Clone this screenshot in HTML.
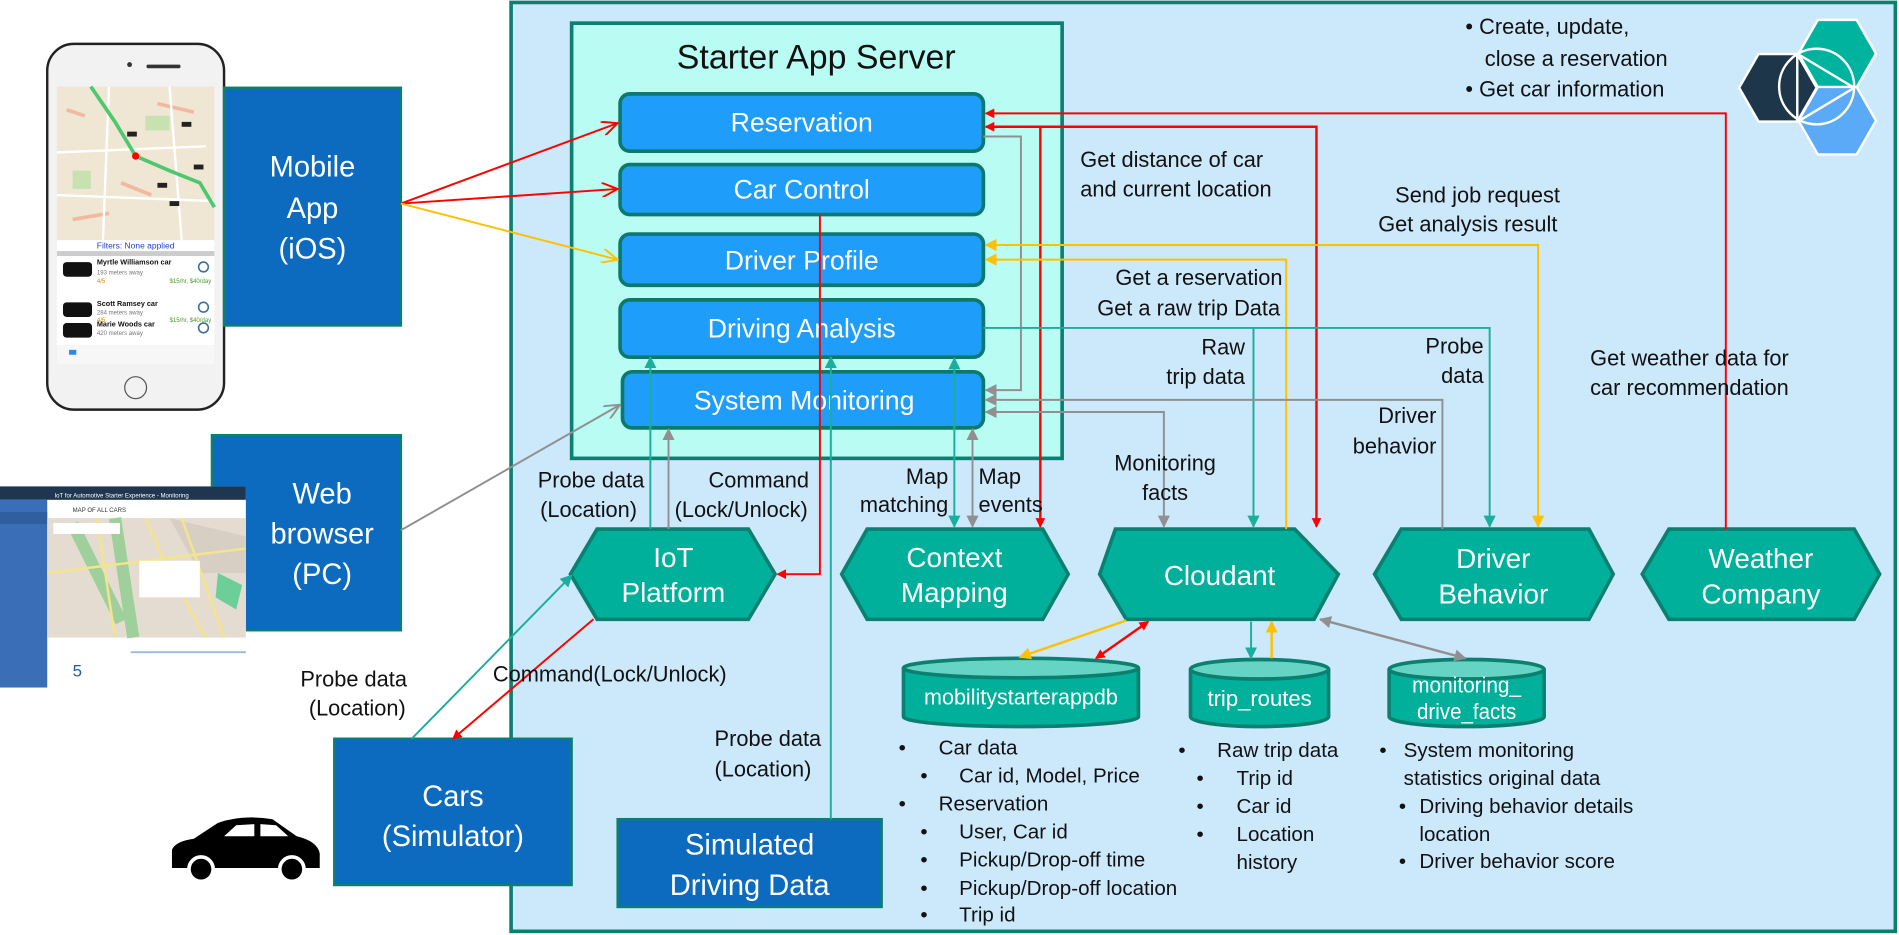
<!DOCTYPE html>
<html><head><meta charset="utf-8"><style>
html,body{margin:0;padding:0;background:#fff;}
svg{display:block;}
text{font-family:"Liberation Sans",sans-serif;}
</style></head><body>
<svg width="1899" height="935" viewBox="0 0 1568 767" preserveAspectRatio="none" xmlns="http://www.w3.org/2000/svg">
<defs>
<marker id="ar" markerWidth="8" markerHeight="8" refX="7" refY="4" orient="auto-start-reverse" markerUnits="userSpaceOnUse"><path d="M0,0 L8,4 L0,8 z" fill="#f00"/></marker>
<marker id="arO" markerWidth="14" markerHeight="12" refX="13" refY="6" orient="auto-start-reverse" markerUnits="userSpaceOnUse"><path d="M0,0 L13,6 L0,12" fill="none" stroke="#f00" stroke-width="1.6"/></marker>
<marker id="ay" markerWidth="10" markerHeight="10" refX="9" refY="5" orient="auto-start-reverse" markerUnits="userSpaceOnUse"><path d="M0,0 L10,5 L0,10 z" fill="#ffc000"/></marker>
<marker id="ayO" markerWidth="14" markerHeight="12" refX="13" refY="6" orient="auto-start-reverse" markerUnits="userSpaceOnUse"><path d="M0,0 L13,6 L0,12" fill="none" stroke="#ffc000" stroke-width="1.6"/></marker>
<marker id="at" markerWidth="10" markerHeight="10" refX="9" refY="5" orient="auto-start-reverse" markerUnits="userSpaceOnUse"><path d="M0,0 L10,5 L0,10 z" fill="#1aae9c"/></marker>
<marker id="ag" markerWidth="10" markerHeight="10" refX="9" refY="5" orient="auto-start-reverse" markerUnits="userSpaceOnUse"><path d="M0,0 L10,5 L0,10 z" fill="#909090"/></marker>
<marker id="agO" markerWidth="14" markerHeight="12" refX="13" refY="6" orient="auto-start-reverse" markerUnits="userSpaceOnUse"><path d="M0,0 L13,6 L0,12" fill="none" stroke="#909090" stroke-width="1.6"/></marker>
</defs>

<rect x="422" y="2" width="1143" height="762" fill="#cce8fb" stroke="#0b8070" stroke-width="3"/>

<g stroke="#fff" stroke-width="2">
<polygon points="1436,72 1452,44.3 1484,44.3 1500,72 1484,99.7 1452,99.7" fill="#1d3649"/>
<polygon points="1485,44 1501,16.3 1533,16.3 1549,44 1533,71.7 1501,71.7" fill="#00b39e"/>
<polygon points="1485,99 1501,71.3 1533,71.3 1549,99 1533,126.7 1501,126.7" fill="#5aaaf8"/>
<circle cx="1500" cy="71" r="31" fill="none"/>
<line x1="1484" y1="44" x2="1484" y2="100"/>
<line x1="1484" y1="44" x2="1531" y2="72"/>
<line x1="1484" y1="100" x2="1531" y2="72"/>
</g>

<rect x="472" y="19" width="405" height="357" fill="#b8fcf4" stroke="#0b8070" stroke-width="3"/>
<text x="674" y="56" font-size="28" text-anchor="middle" fill="#111">Starter App Server</text>

<g stroke="#0b7a6d" stroke-width="3" fill="#1e9dfb">
<rect x="512" y="77" width="300" height="47" rx="8"/>
<rect x="512" y="135" width="300" height="41" rx="8"/>
<rect x="512" y="192" width="300" height="42" rx="8"/>
<rect x="512" y="246" width="300" height="47" rx="8"/>
<rect x="514" y="305" width="298" height="46" rx="8"/>
</g>
<g fill="#fff" font-size="22" text-anchor="middle">
<text x="662" y="108">Reservation</text>
<text x="662" y="163">Car Control</text>
<text x="662" y="221">Driver Profile</text>
<text x="662" y="277">Driving Analysis</text>
<text x="664" y="336">System Monitoring</text>
</g>

<!-- phone -->
<rect x="39" y="36" width="146" height="300" rx="22" fill="#f2f2f2" stroke="#222" stroke-width="2"/>
<circle cx="107" cy="53" r="2" fill="#333"/><rect x="121" y="53" width="28" height="3" fill="#333" rx="1"/>
<rect x="47" y="71" width="130" height="126" fill="#efe6d3"/>
<path d="M55,90 L70,95 M130,85 L160,92 M100,150 L125,160 M60,180 L90,175" stroke="#f0b9a0" stroke-width="3"/>
<rect x="120" y="95" width="20" height="12" fill="#c7e2b0"/><rect x="60" y="140" width="15" height="15" fill="#c7e2b0"/>
<path d="M47,125 L170,120 M90,71 L85,197 M47,160 L177,165 M140,71 L150,197" stroke="#fff" stroke-width="2" fill="none"/>
<path d="M75,71 L95,100 L112,128 L140,140 L165,150 L177,170" fill="none" stroke="#4dc86e" stroke-width="3"/>
<circle cx="112" cy="128" r="3" fill="#f00"/>
<g fill="#222"><rect x="105" y="108" width="8" height="4"/><rect x="150" y="100" width="8" height="4"/><rect x="130" y="150" width="8" height="4"/><rect x="160" y="135" width="8" height="4"/><rect x="140" y="165" width="8" height="4"/></g>
<rect x="47" y="197" width="130" height="9" fill="#fff"/>
<text x="112" y="204" font-size="7" fill="#2244cc" text-anchor="middle">Filters: None applied</text>
<rect x="47" y="206" width="130" height="4" fill="#ccc"/>
<rect x="47" y="210" width="130" height="73" fill="#fff"/>
<g font-size="6" fill="#111" font-weight="bold">
<text x="80" y="217">Myrtle Williamson car</text>
<text x="80" y="251">Scott Ramsey car</text>
<text x="80" y="268">Marie Woods car</text>
</g>
<g font-size="5" fill="#777"><text x="80" y="225">193 meters away</text><text x="80" y="258">284 meters away</text><text x="80" y="275">420 meters away</text></g>
<g font-size="5" fill="#e08a00"><text x="80" y="232">4/5</text><text x="80" y="264">4/5</text></g>
<g font-size="5" fill="#4a9a2a"><text x="140" y="232">$15/hr, $40/day</text><text x="140" y="264">$15/hr, $40/day</text></g>
<g fill="#111"><rect x="52" y="215" width="24" height="12" rx="3"/><rect x="52" y="248" width="24" height="12" rx="3"/><rect x="52" y="265" width="24" height="12" rx="3"/></g>
<g fill="none" stroke="#3a6f9a" stroke-width="1.3"><circle cx="168" cy="219" r="4"/><circle cx="168" cy="252" r="4"/><circle cx="168" cy="269" r="4"/></g>
<rect x="47" y="283" width="130" height="16" fill="#f7f7f7"/>
<rect x="57" y="287" width="6" height="4" fill="#2a8af0"/>
<circle cx="112" cy="318" r="9" fill="none" stroke="#555" stroke-width="1"/>

<rect x="185" y="72" width="146" height="195" fill="#0d6bbf" stroke="#0b8070" stroke-width="2"/>
<g fill="#fff" font-size="24" text-anchor="middle">
<text x="258" y="145">Mobile</text><text x="258" y="179">App</text><text x="258" y="212">(iOS)</text>
</g>

<rect x="175" y="357" width="156" height="160" fill="#0d6bbf" stroke="#0b8070" stroke-width="2"/>
<!-- browser screenshot -->
<rect x="0" y="399" width="203" height="165" fill="#fff"/>
<rect x="0" y="399" width="203" height="11" fill="#1e3650"/>
<rect x="0" y="410" width="39" height="154" fill="#3a6fb8"/>
<rect x="0" y="420" width="39" height="10" fill="#2f5f9e"/>
<rect x="39" y="425" width="164" height="98" fill="#e4dcd0"/>
<path d="M140,425 L203,440 L203,470 L165,470 Z" fill="#d8cfc4"/>
<path d="M60,430 L100,510 M95,425 L110,523" stroke="#9fcf9a" stroke-width="10" fill="none"/>
<path d="M80,425 L95,523 M120,425 L140,470 L170,523 M39,470 L203,450 M150,425 L185,523" stroke="#f4e48a" stroke-width="2" fill="none"/>
<path d="M180,470 L200,480 L195,500 L178,490 Z" fill="#6ccf9a"/>
<rect x="44" y="429" width="55" height="9" fill="#fff"/>
<rect x="115" y="460" width="50" height="30" fill="#fff"/>
<text x="45" y="408" font-size="5" fill="#fff">IoT for Automotive Starter Experience - Monitoring</text>
<text x="60" y="420" font-size="5" fill="#333">MAP OF ALL CARS</text>
<text x="60" y="555" font-size="14" fill="#2a5a9a">5</text>
<line x1="108" y1="535" x2="203" y2="535" stroke="#9ab8e0" stroke-width="1.5"/>
<g fill="#fff" font-size="24" text-anchor="middle">
<text x="266" y="413">Web</text><text x="266" y="446">browser</text><text x="266" y="479">(PC)</text>
</g>

<rect x="276" y="606" width="196" height="120" fill="#0d6bbf" stroke="#0b8070" stroke-width="2"/>
<g fill="#fff" font-size="24" text-anchor="middle"><text x="374" y="661">Cars</text><text x="374" y="694">(Simulator)</text></g>
<path d="M142,712 L142,697 Q145,690 160,688 L180,675 Q200,668 225,672 L245,686 Q262,690 264,700 L264,712 Z" fill="#000"/>
<circle cx="166" cy="713" r="10" fill="#000" stroke="#fff" stroke-width="3"/>
<circle cx="241" cy="713" r="10" fill="#000" stroke="#fff" stroke-width="3"/>
<path d="M185,686 L195,677 L210,676 L210,686 Z M215,676 L228,677 L238,686 L215,686 Z" fill="#fff"/>

<rect x="510" y="672" width="218" height="72" fill="#0d6bbf" stroke="#0b8070" stroke-width="2"/>
<g fill="#fff" font-size="24" text-anchor="middle"><text x="619" y="701">Simulated</text><text x="619" y="734">Driving  Data</text></g>

<g fill="#00b09b" stroke="#0b8070" stroke-width="3">
<polygon points="493,434 618,434 640,471 618,508 493,508 471,471"/>
<polygon points="716,434 861,434 882,471 861,508 716,508 695,471"/>
<polygon points="921,434 1069,434 1105,471 1085,508 930,508 908,471"/>
<polygon points="1157,434 1312,434 1332,471 1312,508 1157,508 1135,471"/>
<polygon points="1378,434 1531,434 1552,471 1531,508 1378,508 1356,471"/>
</g>
<g fill="#fff" font-size="23" text-anchor="middle">
<text x="556" y="465">IoT</text><text x="556" y="494">Platform</text>
<text x="788" y="465">Context</text><text x="788" y="494">Mapping</text>
<text x="1007" y="480">Cloudant</text>
<text x="1233" y="466">Driver</text><text x="1233" y="495">Behavior</text>
<text x="1454" y="466">Weather</text><text x="1454" y="495">Company</text>
</g>

<g fill="#00b09b" stroke="#0b8070" stroke-width="3">
<path d="M746,548 L746,588 A97,8 0 0 0 940,588 L940,548"/>
<ellipse cx="843" cy="548" rx="97" ry="8" fill="#66d4c4"/>
<path d="M983,549 L983,588 A57,8 0 0 0 1097,588 L1097,549"/>
<ellipse cx="1040" cy="549" rx="57" ry="8" fill="#66d4c4"/>
<path d="M1147,549 L1147,588 A64,8 0 0 0 1275,588 L1275,549"/>
<ellipse cx="1211" cy="549" rx="64" ry="8" fill="#66d4c4"/>
</g>
<g fill="#fff" font-size="18" text-anchor="middle">
<text x="843" y="578" textLength="160" lengthAdjust="spacingAndGlyphs">mobilitystarterappdb</text>
<text x="1040" y="579" textLength="86" lengthAdjust="spacingAndGlyphs">trip_routes</text>
<text x="1211" y="568" textLength="90" lengthAdjust="spacingAndGlyphs">monitoring_</text>
<text x="1211" y="590" textLength="82" lengthAdjust="spacingAndGlyphs">drive_facts</text>
</g>

<g fill="none" stroke-width="1.6">
<line x1="331" y1="167" x2="510" y2="101" stroke="#f00" marker-end="url(#arO)"/>
<line x1="331" y1="167" x2="510" y2="155" stroke="#f00" marker-end="url(#arO)"/>
<line x1="331" y1="167" x2="510" y2="213" stroke="#ffc000" marker-end="url(#ayO)"/>
<line x1="331" y1="435" x2="512" y2="332" stroke="#909090" marker-end="url(#agO)"/>
<polyline points="677,176 677,471 642,471" stroke="#f00" marker-end="url(#ar)"/>
<line x1="490" y1="508" x2="374" y2="606" stroke="#f00" marker-end="url(#ar)"/>
<line x1="340" y1="606" x2="472" y2="472" stroke="#1aae9c" marker-end="url(#at)"/>
<line x1="537" y1="434" x2="537" y2="293" stroke="#1aae9c" marker-end="url(#at)"/>
<line x1="552" y1="434" x2="552" y2="352" stroke="#909090" marker-end="url(#ag)"/>
<line x1="686" y1="672" x2="686" y2="293" stroke="#1aae9c" marker-end="url(#at)"/>
<line x1="788" y1="432" x2="788" y2="294" stroke="#1aae9c" marker-start="url(#at)" marker-end="url(#at)"/>
<line x1="803" y1="432" x2="803" y2="352" stroke="#909090" marker-start="url(#ag)" marker-end="url(#ag)"/>
<polyline points="1425,434 1425,93 814,93" stroke="#f00" marker-end="url(#ar)"/>
<polyline points="1087,432 1087,104 814,104" stroke="#f00" stroke-width="2" marker-start="url(#ar)" marker-end="url(#ar)"/>
<line x1="859" y1="104" x2="859" y2="432" stroke="#f00" stroke-width="2" marker-end="url(#ar)"/>
<polyline points="812,112 843,112 843,320 814,320" stroke="#909090" marker-end="url(#ag)"/>
<polyline points="1270,432 1270,201 814,201" stroke="#ffc000" marker-start="url(#ay)" marker-end="url(#ay)"/>
<polyline points="1062,434 1062,213 814,213" stroke="#ffc000" marker-end="url(#ay)"/>
<polyline points="812,269 1230,269 1230,432" stroke="#1aae9c" marker-end="url(#at)"/>
<line x1="1035" y1="269" x2="1035" y2="432" stroke="#1aae9c" marker-end="url(#at)"/>
<polyline points="1191,434 1191,328 814,328" stroke="#909090" marker-end="url(#ag)"/>
<polyline points="961,432 961,338 814,338" stroke="#909090" marker-start="url(#ag)" marker-end="url(#ag)"/>
<line x1="930" y1="509" x2="842" y2="539" stroke="#ffc000" stroke-width="2" marker-end="url(#ay)"/>
<line x1="948" y1="510" x2="905" y2="540" stroke="#f00" stroke-width="2" marker-start="url(#ar)" marker-end="url(#ar)"/>
<line x1="1033" y1="510" x2="1033" y2="540" stroke="#1aae9c" marker-end="url(#at)"/>
<line x1="1050" y1="540" x2="1050" y2="510" stroke="#ffc000" stroke-width="2" marker-end="url(#ay)"/>
<line x1="1090" y1="508" x2="1210" y2="540" stroke="#909090" stroke-width="2" marker-start="url(#ag)" marker-end="url(#ag)"/>
</g>

<g fill="#111" font-size="18">
<text x="1210" y="28">•  Create, update,</text>
<text x="1226" y="54">close a reservation</text>
<text x="1210" y="79">•  Get car information</text>
<text x="892" y="137">Get distance of car</text>
<text x="892" y="161">and current location</text>
<text x="1152" y="166">Send job request</text>
<text x="1138" y="190">Get analysis result</text>
<text x="921" y="234">Get a reservation</text>
<text x="906" y="259">Get a raw trip Data</text>
<text x="1028" y="291" text-anchor="end">Raw</text>
<text x="1028" y="315" text-anchor="end">trip data</text>
<text x="1225" y="290" text-anchor="end">Probe</text>
<text x="1225" y="314" text-anchor="end">data</text>
<text x="1313" y="300">Get weather data for</text>
<text x="1313" y="324">car recommendation</text>
<text x="1186" y="347" text-anchor="end">Driver</text>
<text x="1186" y="372" text-anchor="end">behavior</text>
<text x="962" y="386" text-anchor="middle">Monitoring</text>
<text x="962" y="410" text-anchor="middle">facts</text>
<text x="444" y="400">Probe data</text>
<text x="446" y="424">(Location)</text>
<text x="585" y="400">Command</text>
<text x="557" y="424">(Lock/Unlock)</text>
<text x="783" y="397" text-anchor="end">Map</text>
<text x="783" y="420" text-anchor="end">matching</text>
<text x="808" y="397">Map</text>
<text x="808" y="420">events</text>
<text x="248" y="563">Probe data</text>
<text x="255" y="587">(Location)</text>
<text x="407" y="559">Command(Lock/Unlock)</text>
<text x="590" y="612">Probe data</text>
<text x="590" y="637">(Location)</text>
</g>

<g fill="#111" font-size="17">
<text x="742" y="619">•</text><text x="775" y="619">Car data</text>
<text x="760" y="642">•</text><text x="792" y="642">Car id, Model, Price</text>
<text x="742" y="665">•</text><text x="775" y="665">Reservation</text>
<text x="760" y="688">•</text><text x="792" y="688">User, Car id</text>
<text x="760" y="711">•</text><text x="792" y="711">Pickup/Drop-off time</text>
<text x="760" y="734">•</text><text x="792" y="734">Pickup/Drop-off location</text>
<text x="760" y="756">•</text><text x="792" y="756">Trip id</text>
<text x="973" y="621">•</text><text x="1005" y="621">Raw trip data</text>
<text x="988" y="644">•</text><text x="1021" y="644">Trip id</text>
<text x="988" y="667">•</text><text x="1021" y="667">Car id</text>
<text x="988" y="690">•</text><text x="1021" y="690">Location</text>
<text x="1021" y="713">history</text>
<text x="1139" y="621">•</text><text x="1159" y="621">System monitoring</text>
<text x="1159" y="644">statistics original data</text>
<text x="1155" y="667">•</text><text x="1172" y="667">Driving behavior details</text>
<text x="1172" y="690">location</text>
<text x="1155" y="712">•</text><text x="1172" y="712">Driver behavior score</text>
</g>
</svg>
</body></html>
